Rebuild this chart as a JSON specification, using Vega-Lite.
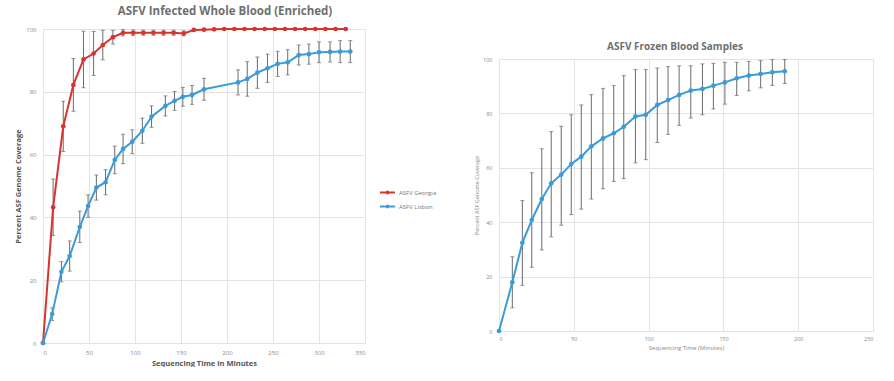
{
  "$schema": "https://vega.github.io/schema/vega-lite/v6.json",
  "background": "white",
  "padding": {"left": 14, "top": 5, "right": 0, "bottom": 0},
  "spacing": 108,
  "config": {
    "font": "Open Sans",
    "view": {"stroke": "#d9d9d9", "strokeWidth": 1},
    "axis": {"gridColor": "#e4e4e4", "domain": false, "ticks": false, "labelColor": "#8a8a8a", "titleColor": "#555555"}
  },
  "datasets": {
    "blood": [
      {"series": "ASFV Georgia", "t": 0, "v": 0, "lo": 0, "hi": 0},
      {"series": "ASFV Georgia", "t": 11, "v": 43.2, "lo": 34.2, "hi": 52.2},
      {"series": "ASFV Georgia", "t": 22, "v": 69, "lo": 61, "hi": 77},
      {"series": "ASFV Georgia", "t": 33, "v": 82.2, "lo": 73.8, "hi": 90.6},
      {"series": "ASFV Georgia", "t": 44, "v": 90.3, "lo": 81.3, "hi": 99.3},
      {"series": "ASFV Georgia", "t": 55, "v": 92.2, "lo": 85.2, "hi": 99.2},
      {"series": "ASFV Georgia", "t": 65, "v": 94.9, "lo": 90.2, "hi": 99.6},
      {"series": "ASFV Georgia", "t": 76, "v": 97.4, "lo": 95.2, "hi": 99.6},
      {"series": "ASFV Georgia", "t": 87, "v": 98.8, "lo": 97.8, "hi": 99.8},
      {"series": "ASFV Georgia", "t": 98, "v": 98.8, "lo": 97.9, "hi": 99.7},
      {"series": "ASFV Georgia", "t": 109, "v": 98.8, "lo": 98, "hi": 99.6},
      {"series": "ASFV Georgia", "t": 120, "v": 98.8, "lo": 98, "hi": 99.6},
      {"series": "ASFV Georgia", "t": 131, "v": 98.8, "lo": 98, "hi": 99.6},
      {"series": "ASFV Georgia", "t": 142, "v": 98.8, "lo": 98, "hi": 99.6},
      {"series": "ASFV Georgia", "t": 153, "v": 98.6, "lo": 97.8, "hi": 99.4},
      {"series": "ASFV Georgia", "t": 164, "v": 99.7, "lo": 99.4, "hi": 100},
      {"series": "ASFV Georgia", "t": 175, "v": 99.8, "lo": 99.5, "hi": 100},
      {"series": "ASFV Georgia", "t": 186, "v": 99.9, "lo": 99.7, "hi": 100},
      {"series": "ASFV Georgia", "t": 197, "v": 100, "lo": 100, "hi": 100},
      {"series": "ASFV Georgia", "t": 208, "v": 100, "lo": 100, "hi": 100},
      {"series": "ASFV Georgia", "t": 219, "v": 100, "lo": 100, "hi": 100},
      {"series": "ASFV Georgia", "t": 230, "v": 100, "lo": 100, "hi": 100},
      {"series": "ASFV Georgia", "t": 241, "v": 100, "lo": 100, "hi": 100},
      {"series": "ASFV Georgia", "t": 252, "v": 100, "lo": 100, "hi": 100},
      {"series": "ASFV Georgia", "t": 263, "v": 100, "lo": 100, "hi": 100},
      {"series": "ASFV Georgia", "t": 274, "v": 100, "lo": 100, "hi": 100},
      {"series": "ASFV Georgia", "t": 285, "v": 100, "lo": 100, "hi": 100},
      {"series": "ASFV Georgia", "t": 296, "v": 100, "lo": 100, "hi": 100},
      {"series": "ASFV Georgia", "t": 307, "v": 100, "lo": 100, "hi": 100},
      {"series": "ASFV Georgia", "t": 318, "v": 100, "lo": 100, "hi": 100},
      {"series": "ASFV Georgia", "t": 329, "v": 100, "lo": 100, "hi": 100},
      {"series": "ASFV Lisbon", "t": 0, "v": 0, "lo": 0, "hi": 0},
      {"series": "ASFV Lisbon", "t": 10, "v": 9.2, "lo": 7.2, "hi": 11.2},
      {"series": "ASFV Lisbon", "t": 20, "v": 22.7, "lo": 19.5, "hi": 25.9},
      {"series": "ASFV Lisbon", "t": 29, "v": 27.7, "lo": 22.9, "hi": 32.5},
      {"series": "ASFV Lisbon", "t": 40, "v": 37, "lo": 32, "hi": 42},
      {"series": "ASFV Lisbon", "t": 49, "v": 43.6, "lo": 40, "hi": 47.2},
      {"series": "ASFV Lisbon", "t": 58, "v": 49.5, "lo": 45.5, "hi": 53.5},
      {"series": "ASFV Lisbon", "t": 68, "v": 51.2, "lo": 47.2, "hi": 55.2},
      {"series": "ASFV Lisbon", "t": 78, "v": 58.3, "lo": 53.9, "hi": 62.7},
      {"series": "ASFV Lisbon", "t": 87, "v": 61.8, "lo": 57.1, "hi": 66.5},
      {"series": "ASFV Lisbon", "t": 97, "v": 64.1, "lo": 60.3, "hi": 67.9},
      {"series": "ASFV Lisbon", "t": 108, "v": 67.6, "lo": 63.6, "hi": 71.6},
      {"series": "ASFV Lisbon", "t": 118, "v": 72.1, "lo": 68.7, "hi": 75.5},
      {"series": "ASFV Lisbon", "t": 133, "v": 75.5, "lo": 72.3, "hi": 78.7},
      {"series": "ASFV Lisbon", "t": 143, "v": 77.1, "lo": 74.1, "hi": 80.1},
      {"series": "ASFV Lisbon", "t": 152, "v": 78.4, "lo": 75.4, "hi": 81.4},
      {"series": "ASFV Lisbon", "t": 162, "v": 79, "lo": 76, "hi": 82},
      {"series": "ASFV Lisbon", "t": 175, "v": 80.8, "lo": 77.3, "hi": 84.3},
      {"series": "ASFV Lisbon", "t": 212, "v": 83, "lo": 79, "hi": 87},
      {"series": "ASFV Lisbon", "t": 222, "v": 84.1, "lo": 78.6, "hi": 89.6},
      {"series": "ASFV Lisbon", "t": 233, "v": 86.1, "lo": 81.1, "hi": 91.1},
      {"series": "ASFV Lisbon", "t": 244, "v": 87.5, "lo": 83, "hi": 92},
      {"series": "ASFV Lisbon", "t": 255, "v": 88.9, "lo": 84.9, "hi": 92.9},
      {"series": "ASFV Lisbon", "t": 266, "v": 89.4, "lo": 85.4, "hi": 93.4},
      {"series": "ASFV Lisbon", "t": 278, "v": 91.7, "lo": 88.5, "hi": 94.9},
      {"series": "ASFV Lisbon", "t": 289, "v": 92, "lo": 88.8, "hi": 95.2},
      {"series": "ASFV Lisbon", "t": 300, "v": 92.6, "lo": 89.3, "hi": 95.9},
      {"series": "ASFV Lisbon", "t": 312, "v": 92.7, "lo": 89.5, "hi": 95.9},
      {"series": "ASFV Lisbon", "t": 323, "v": 92.8, "lo": 89.3, "hi": 96.3},
      {"series": "ASFV Lisbon", "t": 334, "v": 92.8, "lo": 89.3, "hi": 96.3}
    ],
    "frozen": [
      {"t": 0, "v": 0, "lo": 0, "hi": 0},
      {"t": 8.9, "v": 17.9, "lo": 8.5, "hi": 27.3},
      {"t": 15.6, "v": 32.4, "lo": 16.8, "hi": 48},
      {"t": 21.9, "v": 40.8, "lo": 23.4, "hi": 58.2},
      {"t": 28.6, "v": 48.5, "lo": 29.8, "hi": 67},
      {"t": 34.9, "v": 54.3, "lo": 34.6, "hi": 73.3},
      {"t": 41.6, "v": 57.5, "lo": 38.9, "hi": 75.3},
      {"t": 48.3, "v": 61.4, "lo": 42.8, "hi": 79.5},
      {"t": 55, "v": 64.1, "lo": 44.8, "hi": 83.1},
      {"t": 61.7, "v": 67.9, "lo": 48.5, "hi": 86.9},
      {"t": 69.5, "v": 70.8, "lo": 52.3, "hi": 89.2},
      {"t": 76.7, "v": 72.7, "lo": 55, "hi": 90.2},
      {"t": 83.4, "v": 75.1, "lo": 56, "hi": 93.9},
      {"t": 91.2, "v": 78.9, "lo": 61.8, "hi": 96.1},
      {"t": 98.1, "v": 79.5, "lo": 63, "hi": 96.1},
      {"t": 105.8, "v": 83.1, "lo": 69.3, "hi": 96.7},
      {"t": 113, "v": 84.9, "lo": 72.3, "hi": 97.2},
      {"t": 120.4, "v": 86.8, "lo": 75.6, "hi": 97.5},
      {"t": 128.2, "v": 88.4, "lo": 78.3, "hi": 97.5},
      {"t": 136, "v": 89, "lo": 79.5, "hi": 98.2},
      {"t": 143.3, "v": 90.2, "lo": 81.6, "hi": 98.4},
      {"t": 151, "v": 91.4, "lo": 83.4, "hi": 98.8},
      {"t": 158.9, "v": 92.9, "lo": 86.6, "hi": 98.8},
      {"t": 167, "v": 93.9, "lo": 88.3, "hi": 99.1},
      {"t": 174.9, "v": 94.5, "lo": 89.4, "hi": 99.4},
      {"t": 182.7, "v": 95.1, "lo": 90.3, "hi": 99.8},
      {"t": 191, "v": 95.5, "lo": 91, "hi": 99.8}
    ]
  },
  "hconcat": [
    {
      "width": 322,
      "height": 314,
      "title": {"text": "ASFV Infected Whole Blood (Enriched)", "fontSize": 11.5, "fontWeight": "bold", "color": "#6f6f6f", "dx": 21, "offset": 8},
      "data": {"name": "blood"},
      "encoding": {
        "x": {"field": "t", "type": "quantitative", "scale": {"domain": [0, 350], "nice": false}, "axis": {"values": [0, 50, 100, 150, 200, 250, 300, 350], "title": "Sequencing Time in Minutes", "titleFontSize": 7.5, "titleFontWeight": "bold", "labelFontSize": 6, "labelPadding": 6, "titlePadding": 4}}
      },
      "layer": [
        {
          "mark": {"type": "rule", "color": "#6a6a6a", "strokeWidth": 1},
          "encoding": {
            "y": {"field": "lo", "type": "quantitative", "scale": {"domain": [0, 100], "nice": false}, "axis": {"values": [0, 20, 40, 60, 80, 100], "title": "Percent ASF Genome Coverage", "titleFontSize": 7.5, "titleFontWeight": "bold", "labelFontSize": 6, "labelPadding": 7, "titlePadding": 3}},
            "y2": {"field": "hi"}
          }
        },
        {
          "mark": {"type": "tick", "orient": "horizontal", "size": 4, "thickness": 1, "color": "#6a6a6a"},
          "encoding": {"y": {"field": "lo", "type": "quantitative", "title": "Percent ASF Genome Coverage"}}
        },
        {
          "mark": {"type": "tick", "orient": "horizontal", "size": 4, "thickness": 1, "color": "#6a6a6a"},
          "encoding": {"y": {"field": "hi", "type": "quantitative", "title": "Percent ASF Genome Coverage"}}
        },
        {
          "mark": {"type": "line", "strokeWidth": 2, "point": {"size": 22, "filled": true}},
          "encoding": {
            "y": {"field": "v", "type": "quantitative", "title": "Percent ASF Genome Coverage"},
            "color": {"field": "series", "type": "nominal", "scale": {"domain": ["ASFV Georgia", "ASFV Lisbon"], "range": ["#d6342f", "#3a9bd9"]}, "legend": {"orient": "none", "legendX": 336, "legendY": 155, "title": null, "symbolType": "M-1,0H1M-0.12,0a0.12,0.12 0 1,0 0.24,0a0.12,0.12 0 1,0 -0.24,0", "symbolStrokeWidth": 2, "symbolSize": 225, "labelFontSize": 6, "labelColor": "#777777", "labelOffset": 3, "rowPadding": -3}}
          }
        }
      ]
    },
    {
      "spacing": 8,
      "vconcat": [
        {
          "width": 374,
          "height": 1,
          "view": {"stroke": null},
          "data": {"values": [{"a": 1}]},
          "mark": {"type": "point", "opacity": 0},
          "encoding": {}
        },
        {
          "width": 374,
          "height": 272,
          "title": {"text": "ASFV Frozen Blood Samples", "fontSize": 10, "fontWeight": "bold", "color": "#6f6f6f", "dx": -11, "offset": 5},
          "data": {"name": "frozen"},
          "encoding": {
            "x": {"field": "t", "type": "quantitative", "scale": {"domain": [0, 250], "nice": false}, "axis": {"values": [0, 50, 100, 150, 200, 250], "title": "Sequencing Time (Minutes)", "titleFontSize": 6, "titleFontWeight": "normal", "titleColor": "#888888", "labelFontSize": 5.5, "labelPadding": 5, "titlePadding": 3}}
          },
          "layer": [
            {
              "mark": {"type": "rule", "color": "#6a6a6a", "strokeWidth": 1},
              "encoding": {
                "y": {"field": "lo", "type": "quantitative", "scale": {"domain": [0, 100], "nice": false}, "axis": {"values": [0, 10, 20, 30, 40, 50, 60, 70, 80, 90, 100], "title": "Percent ASF Genome Coverage", "titleFontSize": 5.5, "titleFontWeight": "normal", "titleColor": "#888888", "labelFontSize": 5.5, "labelPadding": 7, "titlePadding": 3}},
                "y2": {"field": "hi"}
              }
            },
            {
              "mark": {"type": "tick", "orient": "horizontal", "size": 4, "thickness": 1, "color": "#6a6a6a"},
              "encoding": {"y": {"field": "lo", "type": "quantitative", "title": "Percent ASF Genome Coverage"}}
            },
            {
              "mark": {"type": "tick", "orient": "horizontal", "size": 4, "thickness": 1, "color": "#6a6a6a"},
              "encoding": {"y": {"field": "hi", "type": "quantitative", "title": "Percent ASF Genome Coverage"}}
            },
            {
              "mark": {"type": "line", "strokeWidth": 2, "color": "#3a9bd9", "point": {"size": 22, "filled": true, "color": "#3a9bd9"}},
              "encoding": {"y": {"field": "v", "type": "quantitative", "title": "Percent ASF Genome Coverage"}}
            }
          ]
        }
      ]
    }
  ]
}
